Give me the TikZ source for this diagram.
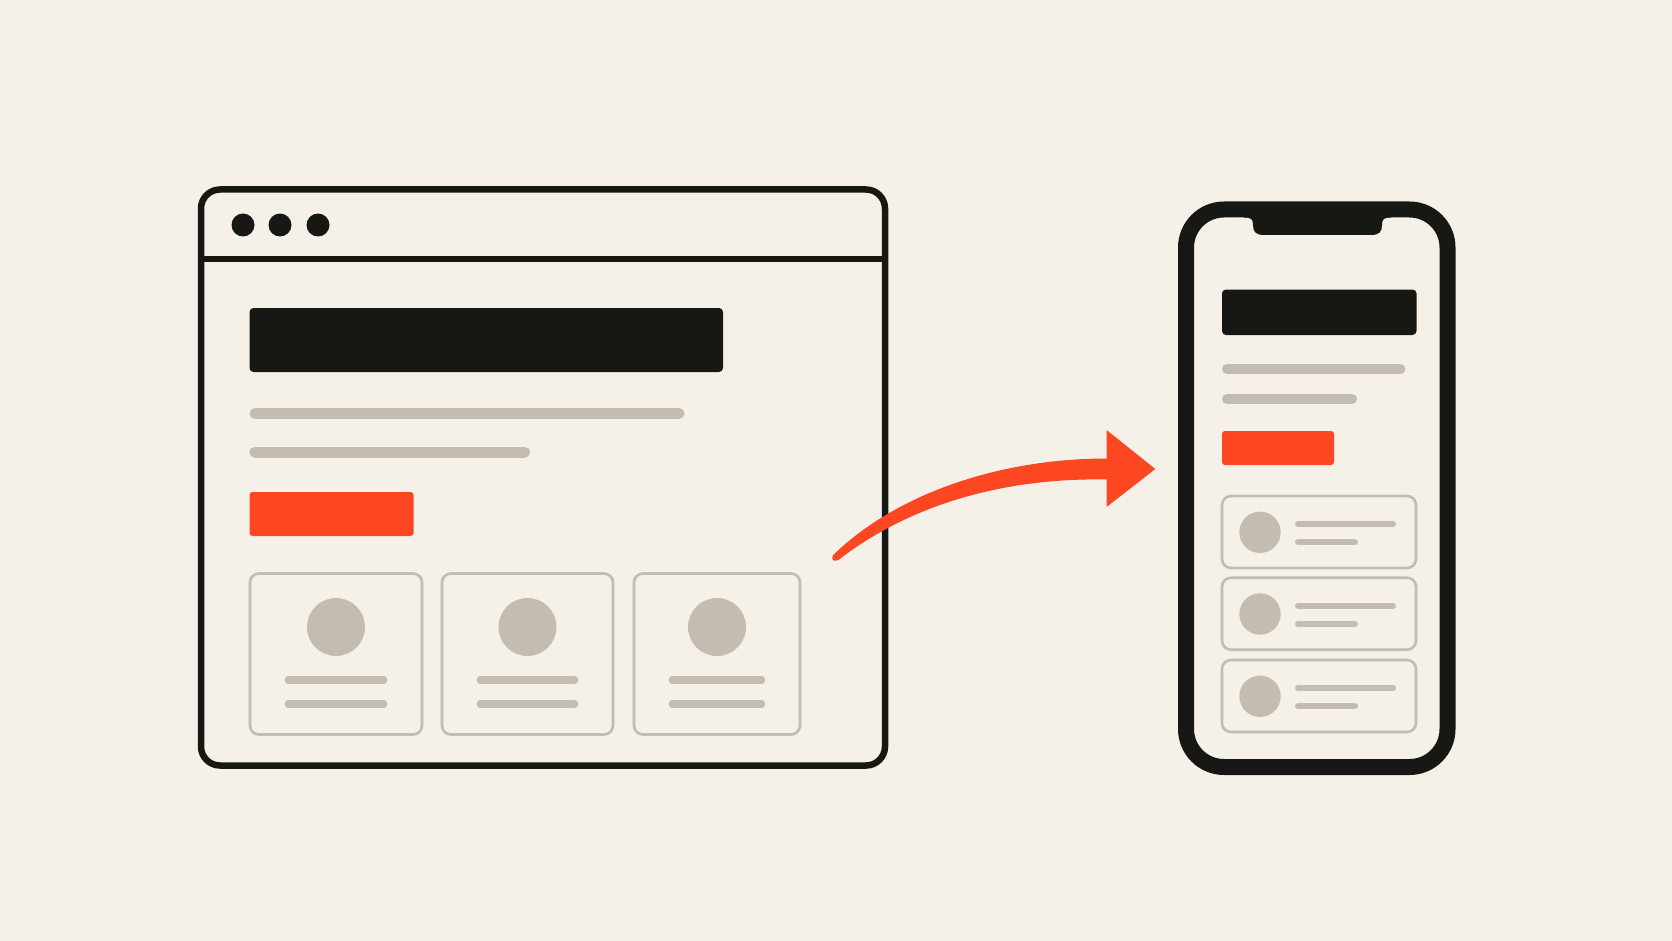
\documentclass[tikz,border=0pt]{standalone}
\usepackage{tikz}
\usetikzlibrary{calc}
\definecolor{paper}{RGB}{245,241,233}
\definecolor{ink}{RGB}{23,23,20}
\definecolor{mute}{RGB}{196,188,176}
\definecolor{flame}{RGB}{253,71,34}

\begin{document}
\begin{tikzpicture}[x=1pt,y=-1pt,
    frame/.style={draw=ink,line width=6.5pt,rounded corners=19pt},
    handset/.style={draw=ink,line width=16pt,rounded corners=38pt},
    bar/.style={fill=ink,rounded corners=4pt},
    button/.style={fill=flame,rounded corners=3pt},
    textline/.style={draw=mute,line cap=round,line width=#1},
    textline/.default=11pt,
    card/.style={draw=mute,line width=2.6pt,rounded corners=9pt},
    avatar/.style={fill=mute}]
   \fill[paper] (0,0) rectangle (1672,941);
   \useasboundingbox (0,0) rectangle (1672,941);

   % desktop browser window
   \draw[frame] (201,189.5) rectangle (885,765.5);
   \draw[draw=ink,line width=5.5pt] (201,259) -- (885,259);
   \foreach \x in {243,280,318}
      \fill[ink] (\x,225) circle[radius=11.5pt];
   \fill[bar] (249.5,308) rectangle (723,372);
   \draw[textline] (255,413.5) -- (679,413.5);
   \draw[textline] (255,452) -- (524.5,452);
   \fill[button] (249.5,492) rectangle (413.5,536);
   \foreach \x/\w in {250/172,442/171,634/166}{
      \draw[card] (\x,573.5) rectangle ++(\w,161);
      \fill[avatar] ($(\x,627)+(\w/2,0)$) circle[radius=29pt];
      \draw[textline=7.5pt] (\x+38.5,680) -- (\x+\w-38.5,680);
      \draw[textline=7.5pt] (\x+38.5,704) -- (\x+\w-38.5,704);
   }

   % phone
   \draw[handset] (1186,209.5) rectangle (1447.5,767);
   \fill[ink] (1244,212) -- (1244,217.5) .. controls (1251,217.5) and (1253,219) .. (1253,225)
      .. controls (1253,232) and (1256,235) .. (1264,235) -- (1371,235)
      .. controls (1379,235) and (1382,232) .. (1382,225)
      .. controls (1382,219) and (1384,217.5) .. (1391,217.5) -- (1391,212) -- cycle;
   \fill[bar] (1222,289.5) rectangle (1416.5,335);
   \draw[textline=10pt] (1227,369) -- (1400.5,369);
   \draw[textline=10pt] (1227,399) -- (1352,399);
   \fill[button] (1222,431) rectangle (1334,465);
   \foreach \y in {496,577.7,660}{
      \draw[card] (1222,\y) rectangle (1416,\y+72);
      \fill[avatar] (1260,\y+36.3) circle[radius=20.7pt];
      \draw[textline=6pt] (1298,\y+28) -- (1393,\y+28);
      \draw[textline=6pt] (1298,\y+46.3) -- (1355,\y+46.3);
   }

   % curved arrow, browser to phone
   \coordinate (tail) at (835,558);
   \coordinate (tip) at (1154.5,469);
   \filldraw[flame,line width=1pt,line join=round]
      (833,556) .. controls (896,494) and (1000,459) .. (1107,459)
      -- (1107,431) -- (tip) -- (1107,506) -- (1107,479)
      .. controls (1000,477) and (907,506) .. (837.5,560) -- cycle;
   \fill[flame] (tail) circle[radius=2.8pt];
\end{tikzpicture}
\end{document}
